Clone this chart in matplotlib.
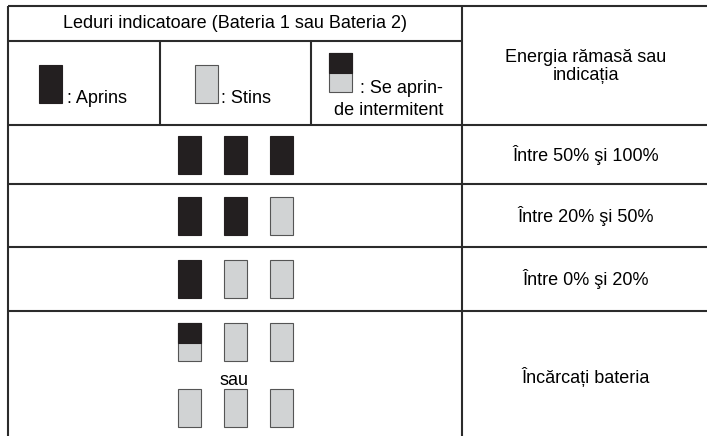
import matplotlib.pyplot as plt
from matplotlib.patches import Rectangle

plt.rcParams['font.family'] = ['Liberation Sans', 'DejaVu Sans']

# date tabel
header_title = 'Leduri indicatoare (Bateria 1 sau Bateria 2)'
header_right = ['Energia rămasă sau', 'indicația']
legend_states = ['on', 'off', 'flash']
legend_texts = [': Aprins', ': Stins', ': Se aprin-', 'de intermitent']
level_leds = [['on', 'on', 'on'],
              ['on', 'on', 'off'],
              ['on', 'off', 'off']]
level_labels = ['Între 50% şi 100%', 'Între 20% şi 50%', 'Între 0% şi 20%']
charge_leds = [['flash', 'off', 'off'],
               ['off', 'off', 'off']]
charge_label = 'Încărcați bateria'
or_text = 'sau'

DARK = '#231f20'
GRAY = '#d1d3d4'
LINE = '#2b2b2b'

W, H = 707, 436
fig = plt.figure(figsize=(W / 100, H / 100), dpi=100)
ax = fig.add_axes([0, 0, 1, 1])
ax.set_xlim(0, W)
ax.set_ylim(H, 0)
ax.axis('off')


def led(x, y, state, w=23, h=38):
    if state == 'on':
        ax.add_patch(Rectangle((x, y), w, h, facecolor=DARK, edgecolor=DARK, lw=0.8))
    elif state == 'off':
        ax.add_patch(Rectangle((x, y), w, h, facecolor=GRAY, edgecolor='#555555', lw=0.8))
    else:
        ax.add_patch(Rectangle((x, y), w, h, facecolor=GRAY, edgecolor='#555555', lw=0.8))
        ax.add_patch(Rectangle((x, y), w, h * 0.52, facecolor=DARK, edgecolor=DARK, lw=0.8))


def line(x0, y0, x1, y1):
    ax.plot([x0, x1], [y0, y1], color=LINE, lw=1.5, solid_capstyle='butt')


# grila
left, mid, right = 8, 462, 707
sub1, sub2 = 160, 311
line(left, 6, right, 6)
line(left, 41, mid, 41)
for y in [125, 184, 247, 311]:
    line(left, y, right, y)
line(left, 6, left, H)
line(mid, 6, mid, H)
line(sub1, 41, sub1, 125)
line(sub2, 41, sub2, 125)

fs = 13
xr = 586
ax.text((left + mid) / 2, 24, header_title, ha='center', va='center', fontsize=fs)
ax.text(xr, 57, header_right[0], ha='center', va='center', fontsize=fs)
ax.text(xr, 76, header_right[1], ha='center', va='center', fontsize=fs)

# legenda
led(39, 65, legend_states[0], h=38)
ax.text(67, 103, legend_texts[0], ha='left', va='baseline', fontsize=fs)
led(195, 65, legend_states[1], h=38)
ax.text(221, 103, legend_texts[1], ha='left', va='baseline', fontsize=fs)
led(329, 53, legend_states[2], h=39)
ax.text(443, 93, legend_texts[2], ha='right', va='baseline', fontsize=fs)
ax.text(443, 115, legend_texts[3], ha='right', va='baseline', fontsize=fs)

# niveluri
led_x = [178, 224, 270]
row_tops = [125, 184, 247]
row_bottoms = [184, 247, 311]
for states, label, y0, y1 in zip(level_leds, level_labels, row_tops, row_bottoms):
    yc = (y0 + y1) / 2
    for x, s in zip(led_x, states):
        led(x, yc - 19, s)
    ax.text(xr, yc, label, ha='center', va='center', fontsize=fs)

# incarcare
for x, s in zip(led_x, charge_leds[0]):
    led(x, 323, s)
for x, s in zip(led_x, charge_leds[1]):
    led(x, 389, s)
ax.text(234, 380, or_text, ha='center', va='center', fontsize=fs)
ax.text(xr, 377, charge_label, ha='center', va='center', fontsize=fs)

fig.savefig('out.png', dpi=100)
